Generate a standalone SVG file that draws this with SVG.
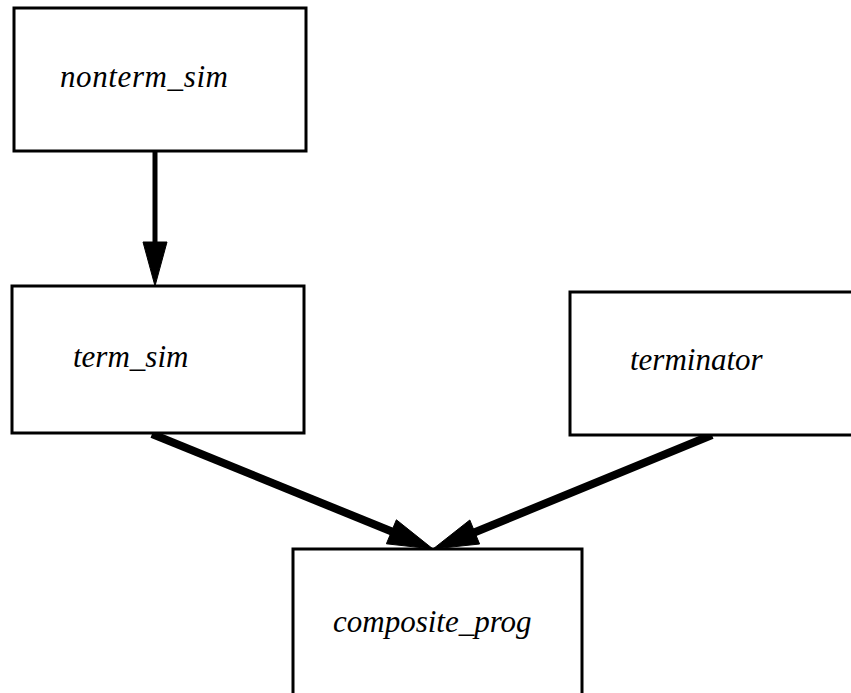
<svg xmlns="http://www.w3.org/2000/svg" width="851" height="693" viewBox="0 0 851 693">
<style>
.box{fill:#fff;stroke:#000;stroke-width:3}
.lbl{font-family:"Liberation Serif","Times New Roman",serif;font-style:italic;font-size:31px;fill:#000}
.edge{stroke:#000;fill:none}
.head{fill:#000;stroke:#000;stroke-width:1}
</style>
<rect width="851" height="693" fill="#fff"/>
<g id="connectors">
<line class="edge" x1="155" y1="151" x2="155" y2="246" stroke-width="5"/>
<polygon class="head" points="143,242 167,242 155,286"/>
<line class="edge" x1="152" y1="434" x2="393" y2="532" stroke-width="8"/>
<polygon class="head" points="386.4,543.8 396.4,519.8 433,549"/>
<line class="edge" x1="712" y1="435" x2="473" y2="533" stroke-width="8"/>
<polygon class="head" points="479.6,544 469.8,520 433,549"/>
</g>
<g id="nonterm_sim">
<rect class="box" x="14" y="8" width="292" height="143"/>
<text class="lbl" x="60" y="87" textLength="168" lengthAdjust="spacing">nonterm_sim</text>
</g>
<g id="term_sim">
<rect class="box" x="12" y="286" width="292" height="147"/>
<text class="lbl" x="73" y="367">term_sim</text>
</g>
<g id="terminator">
<rect class="box" x="570" y="292" width="295" height="143"/>
<text class="lbl" x="630" y="370">terminator</text>
</g>
<g id="composite_prog">
<rect class="box" x="293" y="549" width="289" height="155"/>
<text class="lbl" x="333" y="632">composite_prog</text>
</g>
</svg>
